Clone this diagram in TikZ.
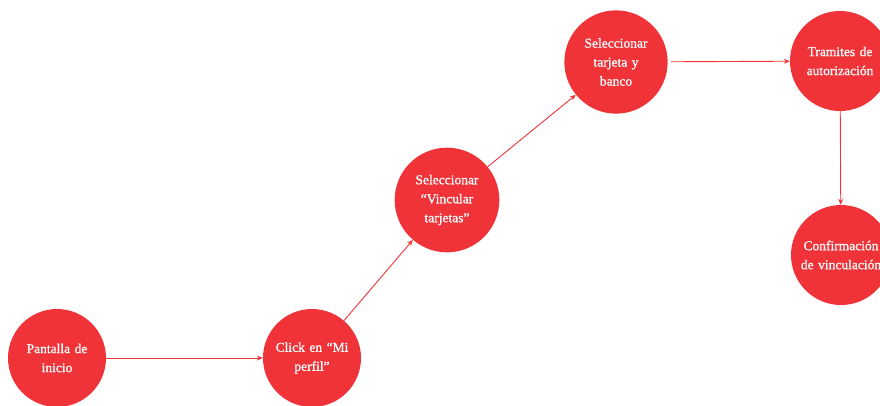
\documentclass[tikz,border=0pt]{standalone}
\usepackage{fontspec}
\setmainfont{Liberation Serif}
\newfontfamily\labelfont[FakeBold=0.9]{Liberation Serif}
\usetikzlibrary{arrows.meta}
\definecolor{nodered}{HTML}{EF3338}
\begin{document}
\begin{tikzpicture}[x=1pt,y=-1pt,
  stepcircle/.style={circle,fill=nodered,draw=none,minimum size=98pt,inner sep=0pt,
    text=white,align=center,font=\labelfont\fontsize{13.5}{19}\selectfont,text width=92pt},
  link/.style={draw=nodered,line width=0.9pt,-{Stealth[length=6pt,width=5pt]}}]
\useasboundingbox (0,0) rectangle (880,405);
\clip (0,0) rectangle (880,405);
\node[stepcircle] (a) at (57,358) {Pantalla de\\inicio};
\node[stepcircle] (b) at (312,358) {Click en “Mi\\perfil”};
\node[stepcircle] (c) at (447,200) {Seleccionar\\“Vincular\\tarjetas”};
\node[stepcircle] (d) at (616,62) {Seleccionar\\tarjeta y\\banco};
\node[stepcircle,minimum size=100pt] (e) at (840,61) {Tramites de\\autorización};
\node[stepcircle,minimum size=100pt] (f) at (841,255) {Confirmación\\de vinculación};
\draw[link] (a) -- (b);
\draw[link] (b) -- (c);
\draw[link] (c) -- (d);
\draw[link,shorten <=3pt] (d) -- (e);
\draw[link] (e) -- (f);
\end{tikzpicture}
\end{document}
